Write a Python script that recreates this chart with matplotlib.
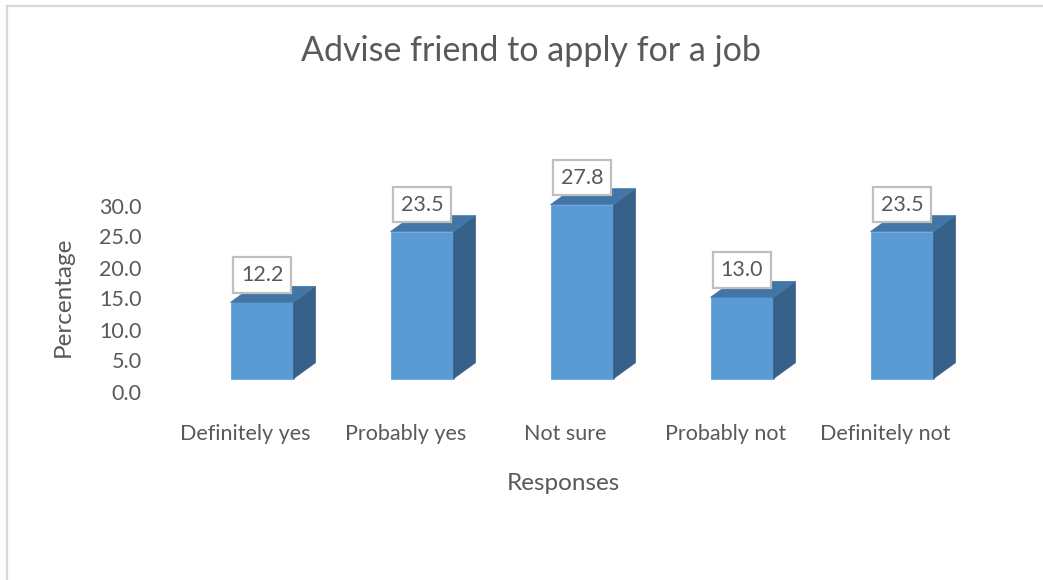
import matplotlib
matplotlib.use("Agg")
import matplotlib.pyplot as plt
from matplotlib.patches import Polygon

# Survey results
categories = ["Definitely yes", "Probably yes", "Not sure", "Probably not", "Definitely not"]
percentages = [12.2, 23.5, 27.8, 13.0, 23.5]
tick_values = [0.0, 5.0, 10.0, 15.0, 20.0, 25.0, 30.0]

plt.rcParams["font.family"] = ["Lato", "DejaVu Sans"]
TEXT = "#595959"
FRONT = "#5B9BD5"
SIDE = "#386189"
TOP = "#4276A6"

W, H, DPI = 1043, 580, 100
fig = plt.figure(figsize=(W / DPI, H / DPI), dpi=DPI)
fig.patch.set_facecolor("white")

# chart-area frame (top and left edges visible)
fig.add_artist(plt.Line2D([7 / W, 7 / W], [0, 1 - 6 / H], color="#d9d9d9", lw=1.6,
                          transform=fig.transFigure))
fig.add_artist(plt.Line2D([7 / W, 1], [1 - 6 / H, 1 - 6 / H], color="#d9d9d9", lw=1.6,
                          transform=fig.transFigure))

# plot area in pixels
L, R, T, B = 150, 1000, 100, 410
ax = fig.add_axes([L / W, (H - B) / H, (R - L) / W, (B - T) / H])
ax.set_facecolor("none")

# pixel scale of the projection
x0_px, step_px = 262.0, 160.0        # first bar centre and category spacing
base_px, unit_px = 378.7, 6.26       # front-face baseline and pixels per percent
ax.set_xlim((L - x0_px) / step_px, (R - x0_px) / step_px)
ax.set_ylim((base_px - B) / unit_px, (base_px - T) / unit_px)

bar_w = 63 / step_px
dx = 22 / step_px
dy = 16 / unit_px

xs = list(range(len(categories)))
ax.bar(xs, percentages, width=bar_w, color=FRONT, edgecolor=FRONT, lw=0.5, zorder=3)
for x, v in zip(xs, percentages):
    xl, xr = x - bar_w / 2, x + bar_w / 2
    ax.add_patch(Polygon([(xr, 0), (xr + dx, dy), (xr + dx, v + dy), (xr, v)],
                         closed=True, fc=SIDE, ec=SIDE, lw=0.5, zorder=3))
    ax.add_patch(Polygon([(xl, v), (xr, v), (xr + dx, v + dy), (xl + dx, v + dy)],
                         closed=True, fc=TOP, ec=TOP, lw=0.5, zorder=3))
    ax.annotate(f"{v:.1f}", xy=(x, v), xytext=(0, 19.5), textcoords="offset points",
                ha="center", va="center", fontsize=15.5, color=TEXT, zorder=5,
                bbox=dict(boxstyle="square,pad=0.36", fc="white", ec="#bfbfbf", lw=1.6))

# value axis labels sit on the back wall
tick_pos = [(base_px - (391.5 - 6.2 * t)) / unit_px for t in tick_values]
ax.set_yticks(tick_pos, [f"{t:.1f}" for t in tick_values])
ax.set_xticks([x - 16.5 / step_px for x in xs], categories)
ax.tick_params(axis="both", length=0, labelsize=15.5, labelcolor=TEXT)
ax.tick_params(axis="y", pad=6)
ax.tick_params(axis="x", pad=10)
for s in ax.spines.values():
    s.set_visible(False)

ax.set_xlabel("Responses", fontsize=17.5, color=TEXT)
ax.xaxis.set_label_coords((563 - L) / (R - L), -(483 - B) / (B - T))
ax.xaxis.label.set_va("center")
ax.set_ylabel("Percentage", fontsize=17.5, color=TEXT)
ax.yaxis.set_label_coords((63 - L) / (R - L), (B - 297) / (B - T))
ax.yaxis.label.set_va("center")

ax.set_title("Advise friend to apply for a job", fontsize=24.5, color=TEXT,
             x=(531 - L) / (R - L), y=(B - 51) / (B - T), va="center", pad=0)

fig.savefig("out.png", dpi=DPI)
